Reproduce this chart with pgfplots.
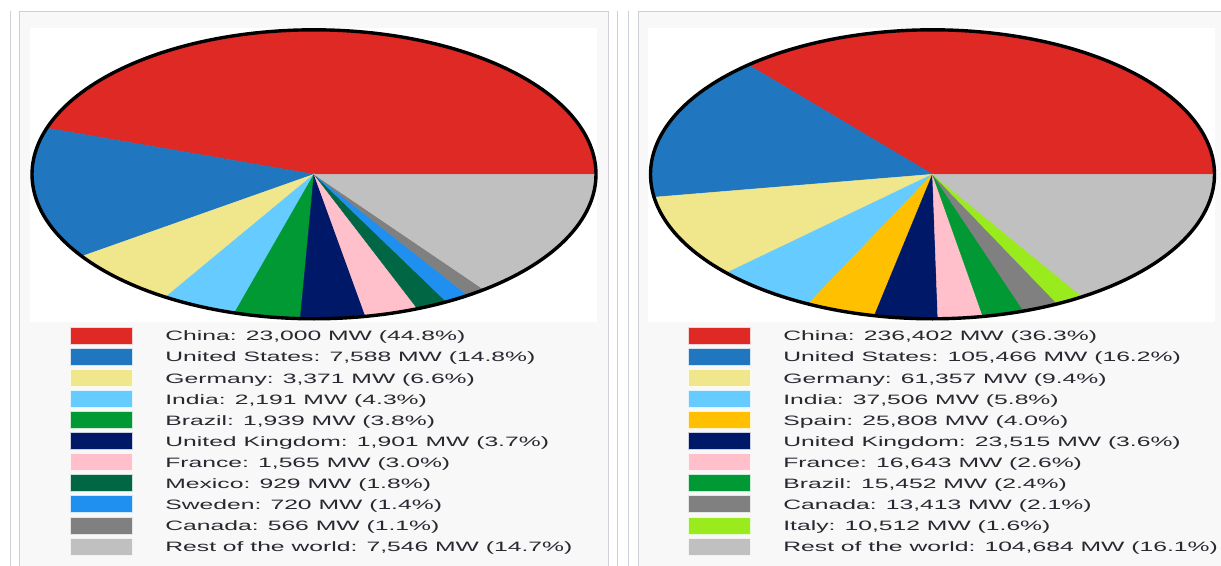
\documentclass[border=0pt]{standalone}
\usepackage{pgfplots}
\pgfplotsset{compat=1.18}
\usepackage{fontspec}
\setmainfont{Liberation Sans}

\definecolor{cChina}{RGB}{222,41,36}
\definecolor{cUS}{RGB}{33,118,192}
\definecolor{cGer}{RGB}{240,230,140}
\definecolor{cInd}{RGB}{102,204,255}
\definecolor{cBra}{RGB}{0,153,51}
\definecolor{cUK}{RGB}{0,24,104}
\definecolor{cFra}{RGB}{255,192,203}
\definecolor{cMex}{RGB}{0,102,68}
\definecolor{cSwe}{RGB}{32,144,240}
\definecolor{cCan}{RGB}{128,128,128}
\definecolor{cRest}{RGB}{192,192,192}
\definecolor{cSpa}{RGB}{255,192,0}
\definecolor{cIta}{RGB}{154,235,30}
\definecolor{panelbg}{RGB}{248,248,248}
\definecolor{frame}{RGB}{205,208,214}
\definecolor{txt}{RGB}{40,40,48}

\newcommand\cumangle{0}
% #1 value, #2 total, #3 colour
\newcommand\slice[3]{%
  \edef\sa{\cumangle}%
  \edef\ea{\fpeval{\cumangle+360*(#1)/(#2)}}%
  \edef\doslice{\noexpand\addplot[fill=#3, draw=#3, line width=0.4bp, domain=\sa:\ea, samples=90] ({cos(x)},{sin(x)}) -- (axis cs:0,0) -- cycle;}%
  \doslice
  \xdef\cumangle{\ea}%
}

\pgfplotsset{pieaxis/.style={
  anchor=origin, width=564bp, height=289bp, scale only axis,
  xmin=-1, xmax=1, ymin=-1, ymax=1, hide axis, clip=false}}

\newcommand\legentry[4]{%
  \fill[#3, draw=white!80!#3, line width=0.8] (#1, 327+21.1*#2) rectangle ++(62,17);
  \node[anchor=base west, xscale=1.815, inner sep=0pt, text=txt, font=\fontsize{13.6bp}{16bp}\selectfont] at (#1+95, 340.8+21.1*#2) {#4};
}

\begin{document}
\begin{tikzpicture}
\useasboundingbox (0,0) rectangle (1221bp,-566bp);
\begin{scope}[x=1bp, y=-1bp]
  % panels
  \fill[white] (0,0) rectangle (1221,566);
  \fill[panelbg] (19.5,11) rectangle (608,566);
  \fill[panelbg] (638,11) rectangle (1221,566);
  \fill[white] (30,28) rectangle (597,322);
  \fill[white] (648,28) rectangle (1215,322);
  \draw[frame, line width=1] (10.5,11) -- (10.5,566);
  \draw[frame, line width=1] (19.5,566) -- (19.5,11) -- (608,11) -- (608,566);
  \draw[frame, line width=1] (617,11) -- (617,566);
  \draw[frame, line width=1] (628,11) -- (628,566);
  \draw[frame, line width=1] (638,566) -- (638,11) -- (1221,11);
\end{scope}

% left pie
\begin{axis}[pieaxis, at={(314bp,-174.3bp)}]
  \def\tot{51316}
  \gdef\cumangle{0}
  \slice{23000}{\tot}{cChina}
  \slice{7588}{\tot}{cUS}
  \slice{3371}{\tot}{cGer}
  \slice{2191}{\tot}{cInd}
  \slice{1939}{\tot}{cBra}
  \slice{1901}{\tot}{cUK}
  \slice{1565}{\tot}{cFra}
  \slice{929}{\tot}{cMex}
  \slice{720}{\tot}{cSwe}
  \slice{566}{\tot}{cCan}
  \slice{7546}{\tot}{cRest}
  \addplot[black, line width=3.4bp, domain=0:360, samples=241] ({cos(x)},{sin(x)}) -- cycle;
\end{axis}

% right pie
\begin{axis}[pieaxis, at={(932.5bp,-174.3bp)}]
  \def\tot{650758}
  \gdef\cumangle{0}
  \slice{236402}{\tot}{cChina}
  \slice{105466}{\tot}{cUS}
  \slice{61357}{\tot}{cGer}
  \slice{37506}{\tot}{cInd}
  \slice{25808}{\tot}{cSpa}
  \slice{23515}{\tot}{cUK}
  \slice{16643}{\tot}{cFra}
  \slice{15452}{\tot}{cBra}
  \slice{13413}{\tot}{cCan}
  \slice{10512}{\tot}{cIta}
  \slice{104684}{\tot}{cRest}
  \addplot[black, line width=3.4bp, domain=0:360, samples=241] ({cos(x)},{sin(x)}) -- cycle;
\end{axis}

\begin{scope}[x=1bp, y=-1bp]
  \legentry{70}{0}{cChina}{China: 23,000 MW (44.8\%)}
  \legentry{70}{1}{cUS}{United States: 7,588 MW (14.8\%)}
  \legentry{70}{2}{cGer}{Germany: 3,371 MW (6.6\%)}
  \legentry{70}{3}{cInd}{India: 2,191 MW (4.3\%)}
  \legentry{70}{4}{cBra}{Brazil: 1,939 MW (3.8\%)}
  \legentry{70}{5}{cUK}{United Kingdom: 1,901 MW (3.7\%)}
  \legentry{70}{6}{cFra}{France: 1,565 MW (3.0\%)}
  \legentry{70}{7}{cMex}{Mexico: 929 MW (1.8\%)}
  \legentry{70}{8}{cSwe}{Sweden: 720 MW (1.4\%)}
  \legentry{70}{9}{cCan}{Canada: 566 MW (1.1\%)}
  \legentry{70}{10}{cRest}{Rest of the world: 7,546 MW (14.7\%)}

  \legentry{688}{0}{cChina}{China: 236,402 MW (36.3\%)}
  \legentry{688}{1}{cUS}{United States: 105,466 MW (16.2\%)}
  \legentry{688}{2}{cGer}{Germany: 61,357 MW (9.4\%)}
  \legentry{688}{3}{cInd}{India: 37,506 MW (5.8\%)}
  \legentry{688}{4}{cSpa}{Spain: 25,808 MW (4.0\%)}
  \legentry{688}{5}{cUK}{United Kingdom: 23,515 MW (3.6\%)}
  \legentry{688}{6}{cFra}{France: 16,643 MW (2.6\%)}
  \legentry{688}{7}{cBra}{Brazil: 15,452 MW (2.4\%)}
  \legentry{688}{8}{cCan}{Canada: 13,413 MW (2.1\%)}
  \legentry{688}{9}{cIta}{Italy: 10,512 MW (1.6\%)}
  \legentry{688}{10}{cRest}{Rest of the world: 104,684 MW (16.1\%)}
\end{scope}
\end{tikzpicture}
\end{document}
